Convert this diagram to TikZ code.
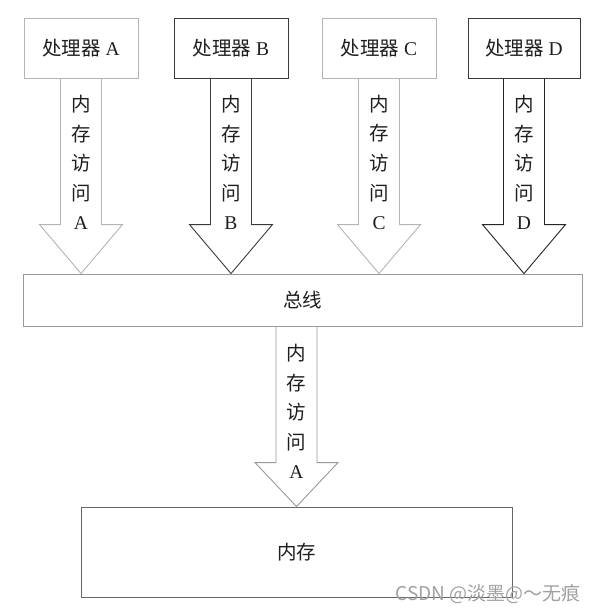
\documentclass[tikz,border=0pt]{standalone}
\usepackage{fontspec}
\setmainfont{Liberation Serif}
\newfontfamily\cjk{Noto Sans CJK SC}
\usetikzlibrary{calc}
\definecolor{cLight}{HTML}{B4B4B4}
\definecolor{cDark}{HTML}{3A3A3A}
\definecolor{cMid}{HTML}{999999}
\definecolor{cMem}{HTML}{666666}
\definecolor{cText}{HTML}{1E1E1E}
\definecolor{cWm}{HTML}{A0A0A0}
\tikzset{
  procbox/.style={draw, line width=0.9pt, minimum width=114pt, minimum height=60pt, inner sep=0pt, text=cText, font=\fontsize{19.5}{22}\selectfont},
  vlabel/.style={align=center, inner sep=0pt, text=cText, font=\fontsize{19.5}{29.6}\selectfont},
  blockarrow/.style={line width=0.9pt, line join=miter},
}
\newcommand{\barrow}[4]{%
  \coordinate (s) at #1;
  \coordinate (t) at (s |- #2.north);
  \draw[blockarrow, #3] ($(s)+(-20.5,0)$) -- ($(t)+(-20.5,-#4)$) -- ($(t)+(-41.5,-#4)$) -- (t)
    -- ($(t)+(41.5,-#4)$) -- ($(t)+(20.5,-#4)$) -- ($(s)+(20.5,0)$);}
\newcommand{\vtext}[1]{{\cjk 内}\\{\cjk 存}\\{\cjk 访}\\{\cjk 问}\\#1}
\begin{document}
\begin{tikzpicture}[x=1pt,y=-1pt]
\useasboundingbox (0,0) rectangle (598,613);
% processors
\node[procbox, draw=cLight] (pA) at (81,48) {{\cjk 处理器} A};
\node[procbox, draw=cDark] (pB) at (231,48) {{\cjk 处理器} B};
\node[procbox, draw=cLight] (pC) at (379,48) {{\cjk 处理器} C};
\node[procbox, draw=cDark, minimum width=112pt] (pD) at (524,48) {{\cjk 处理器} D};
% bus and memory
\node[draw=cMid, line width=0.9pt, minimum width=559pt, minimum height=52pt, inner sep=0pt, text=cText, font=\fontsize{19.5}{22}\selectfont] (bus) at (302.5,300) {\cjk 总线};
\node[draw=cMem, line width=0.9pt, minimum width=431pt, minimum height=90pt, inner sep=0pt, text=cText, font=\fontsize{19.5}{22}\selectfont] (mem) at (296.5,552) {\cjk 内存};
% block arrows
\barrow{(pA.south)}{bus}{draw=cLight}{49}
\barrow{(pB.south)}{bus}{draw=cDark}{49}
\barrow{(pC.south)}{bus}{draw=cLight}{49}
\barrow{(pD.south)}{bus}{draw=black!85}{49}
\barrow{(bus.south -| mem.north)}{mem}{draw=cMid}{44}
% labels
\node[vlabel] (lA) at ($(pA.south)+(0,84)$) {\vtext{A}};
\node[vlabel] (lB) at ($(pB.south)+(0,84)$) {\vtext{B}};
\node[vlabel] (lC) at ($(pC.south)+(0,84)$) {\vtext{C}};
\node[vlabel] (lD) at ($(pD.south)+(0,84)$) {\vtext{D}};
\node[vlabel] (lM) at ($(bus.south -| mem.north)+(0,85)$) {\vtext{A}};
% watermark
\node[text=cWm, font=\cjk\fontsize{19}{22}\selectfont, inner sep=0pt] (wm) at (488,594) {CSDN @淡墨@～无痕};
\end{tikzpicture}
\end{document}
